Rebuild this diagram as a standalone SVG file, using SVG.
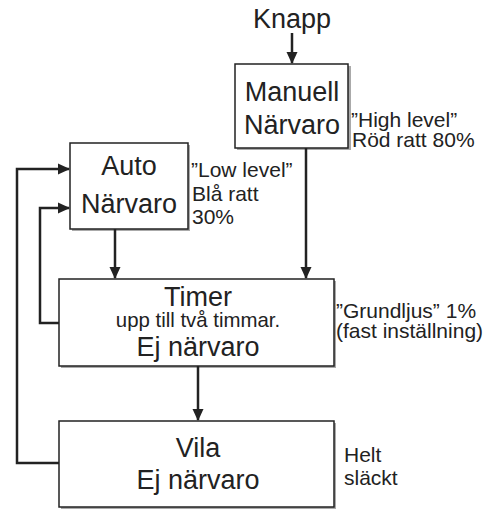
<svg xmlns="http://www.w3.org/2000/svg" width="494" height="510" viewBox="0 0 494 510">
<style>
.box{fill:#fff;stroke:#222;stroke-width:1.5}
.sh{fill:#aaa}
.big{font-family:"Liberation Sans",Arial,sans-serif;font-size:27px;fill:#222;text-anchor:middle}
.mid{font-family:"Liberation Sans",Arial,sans-serif;font-size:20.4px;fill:#222;text-anchor:middle}
.note{font-family:"Liberation Sans",Arial,sans-serif;font-size:21px;fill:#222}
.ln{fill:none;stroke:#222;stroke-width:2.5}
</style>
<defs>
<marker id="ah" markerWidth="12" markerHeight="12" refX="11" refY="6" orient="auto" markerUnits="userSpaceOnUse">
<path d="M0,0.5 L12,6 L0,11.5 z" fill="#222"/>
</marker>
</defs>
<rect width="494" height="510" fill="#fff"/>
<text class="big" x="292" y="28">Knapp</text>
<g id="manuell">
<rect class="sh" x="237" y="66" width="114" height="84"/>
<rect class="box" x="235" y="64" width="113" height="84"/>
<text class="big" x="292" y="101">Manuell</text>
<text class="big" x="292" y="134">Närvaro</text>
</g>
<g id="auto">
<rect class="sh" x="72" y="145" width="118" height="86"/>
<rect class="box" x="70" y="143" width="118" height="86"/>
<text class="big" x="129" y="175">Auto</text>
<text class="big" x="129" y="213">Närvaro</text>
</g>
<g id="timer">
<rect class="sh" x="61" y="281" width="275" height="87"/>
<rect class="box" x="59" y="279" width="275" height="87"/>
<text class="big" x="198" y="306">Timer</text>
<text class="mid" x="198" y="327">upp till två timmar.</text>
<text class="big" x="198" y="356">Ej närvaro</text>
</g>
<g id="vila">
<rect class="sh" x="61" y="423" width="275" height="86"/>
<rect class="box" x="59" y="421" width="275" height="86"/>
<text class="big" x="198" y="457">Vila</text>
<text class="big" x="198" y="489">Ej närvaro</text>
</g>
<g id="notes">
<text class="note" x="351" y="127">”High level”</text>
<text class="note" x="352" y="147">Röd ratt 80%</text>
<text class="note" x="191" y="177">”Low level”</text>
<text class="note" x="192" y="201">Blå ratt</text>
<text class="note" x="192" y="224">30%</text>
<text class="note" x="336" y="318">”Grundljus” 1%</text>
<text class="note" x="336" y="338">(fast inställning)</text>
<text class="note" x="344" y="462">Helt</text>
<text class="note" x="344" y="485">släckt</text>
</g>
<g id="connectors">
<path class="ln" d="M292,33 V63" marker-end="url(#ah)"/>
<path class="ln" d="M306,148 V278" marker-end="url(#ah)"/>
<path class="ln" d="M115,229 V278" marker-end="url(#ah)"/>
<path class="ln" d="M198,366 V420" marker-end="url(#ah)"/>
<path class="ln" d="M59,463 H17 V169 H69" marker-end="url(#ah)"/>
<path class="ln" d="M59,323 H40 V208 H69" marker-end="url(#ah)"/>
</g>
</svg>
